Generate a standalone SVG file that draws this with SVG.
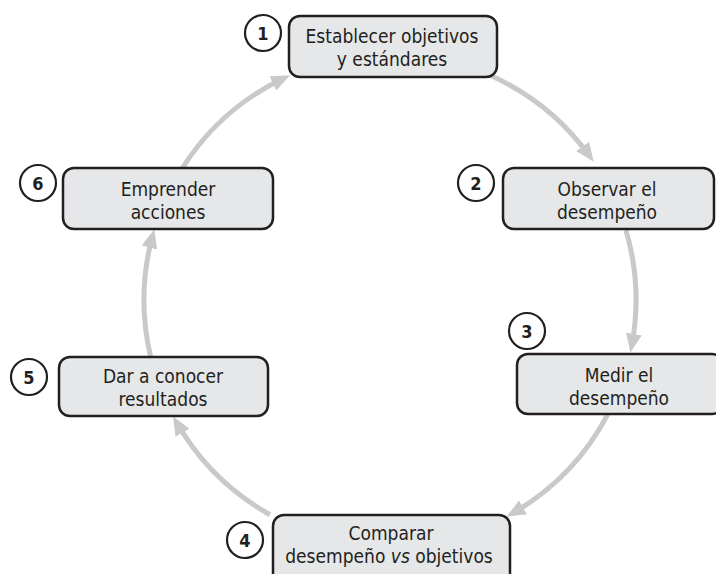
<svg xmlns="http://www.w3.org/2000/svg" width="716" height="574" viewBox="0 0 716 574">
<style>
.box{fill:#e6e7e8;stroke:#231f20;stroke-width:2.5}
.num{fill:#fff;stroke:#231f20;stroke-width:2.2}
.t{font-family:"Liberation Sans Narrow","DejaVu Sans Condensed","Liberation Sans",sans-serif;font-size:19px;fill:#231f20;text-anchor:middle}
.n{font-family:"Liberation Sans Narrow","DejaVu Sans Condensed","Liberation Sans",sans-serif;font-size:18px;font-weight:bold;fill:#231f20;text-anchor:middle}
.c{fill:none;stroke:#c8c9ca;stroke-width:5;marker-end:url(#ah)}
</style>
<defs>
<marker id="ah" markerUnits="userSpaceOnUse" markerWidth="20" markerHeight="16" refX="12" refY="8" orient="auto">
<path d="M0,0 L19,8 L0,16 z" fill="#c8c9ca"/>
</marker>
</defs>
<rect width="716" height="574" fill="#fff"/>
<g id="connectors">
<path class="c" d="M490.0,75.3 A246,246 0 0 1 589.6,156.1"/>
<path class="c" d="M625.9,230.1 A246,246 0 0 1 631.7,345.7"/>
<path class="c" d="M607.6,414.7 A246,246 0 0 1 512.6,513.3"/>
<path class="c" d="M270.0,514.7 A246,246 0 0 1 176.5,422.3"/>
<path class="c" d="M150.7,357.0 A246,246 0 0 1 152.5,235.9"/>
<path class="c" d="M182.5,167.8 A246,246 0 0 1 283.7,78.2"/>
</g>
<g id="node1">
<rect class="box" x="289" y="16" width="208" height="61" rx="11"/>
<circle class="num" cx="263" cy="33" r="18"/>
<text class="n" x="263" y="39.5">1</text>
<text class="t" x="392" y="43">Establecer objetivos</text>
<text class="t" x="392" y="66">y estándares</text>
</g>
<g id="node2">
<rect class="box" x="503" y="168" width="211" height="61" rx="11"/>
<circle class="num" cx="476" cy="183" r="18"/>
<text class="n" x="476" y="189.5">2</text>
<text class="t" x="607" y="196">Observar el</text>
<text class="t" x="607" y="219">desempeño</text>
</g>
<g id="node3">
<rect class="box" x="517" y="354" width="206" height="60" rx="11"/>
<circle class="num" cx="527" cy="331" r="18"/>
<text class="n" x="527" y="337.5">3</text>
<text class="t" x="619" y="382">Medir el</text>
<text class="t" x="619" y="405">desempeño</text>
</g>
<g id="node4">
<rect class="box" x="273" y="515" width="237" height="70" rx="11"/>
<circle class="num" cx="245" cy="540" r="18"/>
<text class="n" x="245" y="546.5">4</text>
<text class="t" x="391" y="540">Comparar</text>
<text class="t" x="389" y="563">desempeño <tspan font-style="italic">vs</tspan> objetivos</text>
</g>
<g id="node5">
<rect class="box" x="59" y="357" width="209" height="59" rx="11"/>
<circle class="num" cx="29" cy="377" r="18"/>
<text class="n" x="29" y="383.5">5</text>
<text class="t" x="163" y="383">Dar a conocer</text>
<text class="t" x="163" y="406">resultados</text>
</g>
<g id="node6">
<rect class="box" x="63" y="168" width="210" height="61" rx="11"/>
<circle class="num" cx="38" cy="183" r="18"/>
<text class="n" x="38" y="189.5">6</text>
<text class="t" x="168" y="196">Emprender</text>
<text class="t" x="168" y="219">acciones</text>
</g>
</svg>
